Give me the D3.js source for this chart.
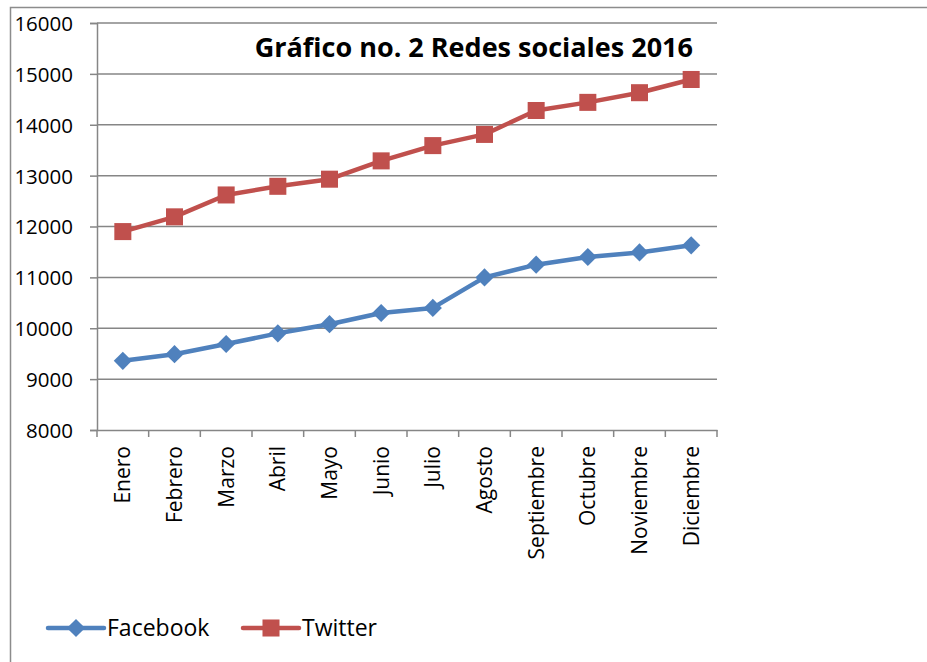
<!DOCTYPE html>
<html>
<head>
<meta charset="utf-8">
<script src="https://cdn.jsdelivr.net/npm/d3@7"></script>
<style>
  body { margin: 0; background: #fff; }
  svg text { font-family: "Open Sans", Lato, sans-serif; fill: #000; }
</style>
</head>
<body>
<svg id="canvas" width="927" height="662"></svg>
<script>
let months = ['Enero', 'Febrero', 'Marzo', 'Abril', 'Mayo', 'Junio', 'Julio', 'Agosto',
              'Septiembre', 'Octubre', 'Noviembre', 'Diciembre']
let facebook = [9360, 9490, 9690, 9900, 10080, 10300, 10400, 11000, 11250, 11400, 11490, 11630]
let twitter = [11900, 12190, 12620, 12790, 12930, 13290, 13590, 13810, 14280, 14440, 14630, 14890]
let yTicks = [8000, 9000, 10000, 11000, 12000, 13000, 14000, 15000, 16000]
let seriesNames = ['Facebook', 'Twitter']
let seriesColors = ['#4f81bd', '#c0504d']

let canvas = d3.select('#canvas')

// outer chart border
canvas.append('path')
      .attr('d', 'M10.5,662 L10.5,7.5 L927,7.5')
      .attr('fill', 'none')
      .attr('stroke', '#8c8c8c')
      .attr('stroke-width', 1.5)

let plotLeft = 97, plotRight = 717, plotTop = 23, plotBottom = 430

let xScale = d3.scaleBand().domain(months).range([plotLeft, plotRight])
let yScale = d3.scaleLinear().domain([8000, 16000]).range([plotBottom, plotTop])

// gridlines + y axis
let yAxis = canvas.append('g')
    .attr('transform', 'translate(' + plotLeft + ',0)')
    .call(d3.axisLeft(yScale).tickValues(yTicks).tickSize(7).tickPadding(17).tickFormat(d3.format('d')))
yAxis.select('.domain').attr('stroke', '#868686').attr('stroke-width', 1.5)
yAxis.selectAll('.tick line').attr('stroke', '#868686').attr('stroke-width', 1.5)
yAxis.selectAll('.tick text').style('font-size', '20.5px').attr('dy', '0.36em')

canvas.append('g')
      .selectAll('line')
      .data(yTicks.filter(d => d > 8000))
      .enter()
      .append('line')
      .attr('x1', plotLeft)
      .attr('x2', plotRight)
      .attr('y1', d => yScale(d))
      .attr('y2', d => yScale(d))
      .attr('stroke', '#868686')
      .attr('stroke-width', 1.5)

// x axis
let xAxis = canvas.append('g')
    .attr('transform', 'translate(0,' + plotBottom + ')')
    .call(d3.axisBottom(xScale).tickSize(0).tickSizeOuter(0))
xAxis.select('.domain').attr('stroke', '#868686').attr('stroke-width', 1.5)
xAxis.selectAll('.tick text')
     .style('font-size', '21px')
     .attr('text-anchor', 'end')
     .attr('transform', 'rotate(-90)')
     .attr('x', -16)
     .attr('y', 0)
     .attr('dy', '0.36em')

// category tick marks at band edges
canvas.append('g')
      .selectAll('line')
      .data(months.concat(['end']))
      .enter()
      .append('line')
      .attr('x1', (d, i) => plotLeft + i * xScale.step())
      .attr('x2', (d, i) => plotLeft + i * xScale.step())
      .attr('y1', plotBottom)
      .attr('y2', plotBottom + 7)
      .attr('stroke', '#868686')
      .attr('stroke-width', 1.5)

let cx = d => xScale(d) + xScale.bandwidth() / 2

let lineGen = (values) => d3.line()
    .x((d, i) => cx(months[i]))
    .y(d => yScale(d))(values)

let diamond = d3.symbol().type(d3.symbolDiamond2).size(210)
let square = d3.symbol().type(d3.symbolSquare).size(290)

let drawSeries = (values, color, sym) => {
    canvas.append('path')
          .attr('d', lineGen(values))
          .attr('fill', 'none')
          .attr('stroke', color)
          .attr('stroke-width', 4.5)
          .attr('stroke-linejoin', 'round')
    canvas.append('g')
          .selectAll('path')
          .data(values)
          .enter()
          .append('path')
          .attr('d', sym)
          .attr('transform', (d, i) => 'translate(' + cx(months[i]) + ',' + yScale(d) + ')')
          .attr('fill', color)
}

drawSeries(facebook, seriesColors[0], diamond)
drawSeries(twitter, seriesColors[1], square)

// title
canvas.append('text')
      .attr('x', 693)
      .attr('y', 57)
      .attr('text-anchor', 'end')
      .style('font-size', '27px')
      .style('font-weight', 'bold')
      .text('Gráfico no. 2 Redes sociales 2016')

// legend
let legendX = [48, 243]
let legend = canvas.append('g')
seriesNames.forEach((name, i) => {
    let g = legend.append('g').attr('transform', 'translate(' + legendX[i] + ',628)')
    g.append('line')
     .attr('x1', 0).attr('x2', 56).attr('y1', 0).attr('y2', 0)
     .attr('stroke', seriesColors[i])
     .attr('stroke-width', 4.5)
     .attr('stroke-linecap', 'round')
    g.append('path')
     .attr('d', i === 0 ? diamond : square)
     .attr('transform', 'translate(28,0)')
     .attr('fill', seriesColors[i])
    g.append('text')
     .attr('x', 59)
     .attr('y', 0)
     .attr('dy', '0.36em')
     .style('font-size', '23px')
     .text(name)
})
</script>
</body>
</html>
